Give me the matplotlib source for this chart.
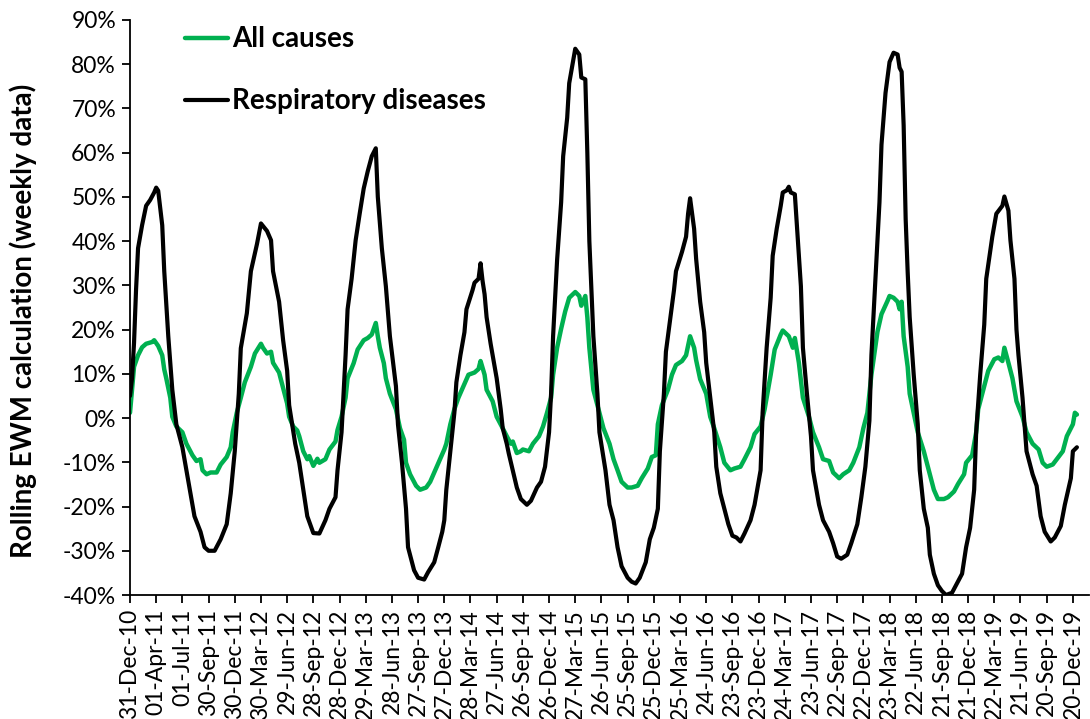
import numpy as np
import pandas as pd
import matplotlib
matplotlib.use("Agg")
import matplotlib.pyplot as plt
from matplotlib.ticker import FuncFormatter, MultipleLocator

plt.rcParams["font.family"] = ["Lato", "DejaVu Sans"]

START = pd.Timestamp("2010-12-31")

# weeks since START, and rolling EWM value in %
all_weeks = [0, 1, 2, 4, 6, 8, 11, 12, 14, 16, 17, 18, 20, 21, 23, 26, 28, 31, 33, 35,
             36, 38, 40, 43, 45, 48, 50, 51, 53, 55, 57, 60, 62, 65, 66, 68, 70, 71, 74, 76,
             78, 79, 81, 83, 84, 86, 88, 89, 91, 93, 94, 97, 99, 102, 103, 105, 107, 108, 111, 113,
             116, 118, 120, 122, 123, 124, 126, 127, 129, 132, 134, 136, 137, 139, 142, 144, 147, 149, 151, 154,
             156, 157, 159, 161, 163, 166, 168, 171, 173, 174, 176, 177, 180, 182, 185, 187, 189, 190, 192, 194,
             195, 198, 200, 203, 205, 207, 209, 210, 212, 214, 216, 218, 221, 223, 224, 226, 227, 228, 230, 233,
             235, 238, 240, 242, 244, 247, 249, 252, 254, 257, 259, 261, 262, 264, 267, 269, 271, 274, 276, 278,
             280, 281, 283, 286, 288, 290, 293, 295, 298, 300, 303, 305, 308, 310, 313, 315, 318, 320, 323, 324,
             327, 329, 330, 332, 334, 337, 339, 342, 344, 347, 349, 352, 354, 357, 359, 362, 364, 366, 368, 371,
             373, 376, 377, 379, 381, 382, 383, 384, 386, 387, 389, 391, 394, 396, 399, 401, 404, 406, 409, 411,
             414, 415, 418, 420, 421, 424, 426, 429, 431, 433, 434, 436, 438, 440, 443, 445, 448, 451, 453, 455,
             458, 460, 463, 465, 468, 469, 470]
all_vals = [1.2, 6.4, 11.6, 14.2, 16.0, 16.8, 17.2, 17.6, 16.3, 14.2, 11.0, 9.0, 4.6, 0.3, -1.9, -3.2, -5.8, -8.4, -9.7, -9.3,
            -11.8, -12.7, -12.3, -12.3, -10.5, -8.8, -6.6, -3.2, 1.2, 4.6, 8.1, 11.6, 14.6, 16.8, 15.9, 14.6, 15.0, 12.5, 10.3, 6.8,
            3.3, 0.3, -1.9, -2.8, -4.1, -7.5, -9.3, -8.6, -10.8, -9.2, -10.1, -9.3, -7.1, -5.3, -2.7, 0.3, 4.6, 9.0, 12.4, 15.5,
            17.6, 18.1, 18.9, 21.5, 18.5, 15.9, 12.4, 9.0, 5.5, 2.0, -2.3, -4.9, -10.1, -12.7, -15.3, -16.2, -15.7, -14.4, -12.3, -9.2,
            -7.1, -5.8, -1.4, 2.0, 4.6, 7.7, 9.8, 10.3, 11.1, 12.9, 9.8, 6.4, 3.8, 0.3, -2.3, -4.1, -5.8, -5.3, -7.9, -7.5,
            -7.1, -7.5, -5.8, -4.1, -1.9, 1.2, 4.6, 9.8, 15.9, 20.2, 24.1, 27.2, 28.5, 27.6, 25.4, 27.6, 22.8, 15.9, 6.4, 1.2,
            -2.3, -5.8, -9.3, -11.8, -14.4, -15.7, -15.7, -15.3, -13.6, -11.4, -8.8, -8.4, -1.4, 2.9, 6.4, 9.8, 12.0, 12.9, 14.2, 18.5,
            15.9, 13.1, 8.8, 5.5, 0.3, -2.3, -6.6, -10.1, -11.8, -11.4, -11.0, -9.3, -6.6, -3.6, -1.9, 2.0, 9.8, 15.5, 18.9, 19.8,
            18.5, 15.9, 18.1, 12.5, 4.6, 0.3, -3.2, -6.6, -9.3, -9.7, -12.3, -13.6, -12.7, -11.8, -10.1, -6.6, -2.3, 1.2, 9.8, 19.5,
            23.5, 26.5, 27.6, 27.2, 26.3, 24.6, 26.3, 18.5, 11.6, 5.5, 1.2, -3.2, -7.5, -11.0, -16.2, -18.3, -18.3, -17.9, -16.6, -14.9,
            -12.7, -10.1, -8.4, -3.2, 2.0, 7.2, 10.7, 13.3, 13.7, 12.9, 15.9, 12.5, 9.0, 3.8, 0.3, -3.2, -5.8, -7.1, -10.1, -11.0,
            -10.5, -9.3, -7.5, -4.1, -1.4, 1.2, 0.8]

resp_weeks = [0, 1, 2, 3, 4, 6, 8, 10, 12, 13, 14, 16, 17, 19, 21, 23, 26, 28, 30, 32,
              35, 37, 39, 42, 45, 48, 50, 52, 54, 55, 58, 60, 63, 65, 68, 70, 71, 74, 76, 78,
              79, 82, 84, 86, 88, 91, 94, 97, 99, 102, 103, 105, 106, 107, 108, 110, 112, 114, 116, 118,
              120, 122, 123, 125, 127, 129, 132, 133, 135, 137, 138, 141, 143, 146, 148, 151, 153, 155, 156, 157,
              159, 161, 162, 164, 166, 167, 170, 171, 173, 174, 175, 176, 177, 179, 180, 182, 184, 185, 187, 188,
              190, 192, 194, 197, 199, 202, 204, 206, 208, 209, 210, 212, 214, 215, 217, 218, 220, 221, 223, 224,
              226, 227, 228, 230, 232, 233, 236, 238, 240, 242, 244, 247, 249, 251, 253, 256, 258, 260, 262, 263,
              265, 266, 268, 270, 271, 274, 276, 277, 278, 280, 281, 283, 285, 286, 288, 290, 291, 293, 295, 297,
              299, 301, 303, 305, 308, 310, 313, 314, 316, 318, 319, 321, 323, 324, 326, 327, 328, 330, 331, 333,
              334, 336, 338, 339, 342, 344, 347, 349, 351, 353, 356, 358, 361, 363, 365, 367, 368, 370, 372, 373,
              375, 377, 379, 381, 382, 383, 384, 385, 386, 387, 389, 391, 392, 394, 396, 397, 399, 401, 403, 405,
              408, 410, 413, 415, 417, 419, 420, 422, 424, 425, 428, 430, 433, 434, 436, 437, 439, 440, 441, 443,
              445, 448, 450, 452, 454, 457, 459, 462, 464, 467, 468, 470]
resp_vals = [5.0, 9.0, 17.0, 29.0, 38.4, 43.6, 48.0, 49.3, 51.0, 52.1, 51.4, 43.6, 33.2, 18.5, 6.4, -1.4, -6.6, -11.8, -17.0, -22.2,
             -25.7, -29.2, -30.0, -30.0, -27.4, -24.0, -17.0, -7.5, 5.5, 15.8, 23.7, 33.2, 39.3, 44.0, 42.3, 40.2, 33.2, 26.3, 17.6, 10.7,
             2.9, -5.8, -10.1, -16.2, -22.2, -26.0, -26.1, -23.1, -20.5, -17.9, -11.8, -3.2, 5.5, 14.2, 24.6, 31.5, 40.2, 46.2, 51.9, 55.8,
             59.2, 61.0, 50.0, 38.4, 29.8, 18.5, 7.2, -1.4, -10.1, -20.5, -29.2, -34.4, -36.1, -36.5, -34.8, -32.6, -29.2, -25.7, -23.1, -16.2,
             -7.5, 1.2, 8.1, 14.2, 19.4, 24.6, 28.9, 30.6, 31.5, 35.0, 31.0, 28.0, 22.8, 16.8, 14.2, 9.0, 2.0, -2.3, -5.8, -8.0,
             -11.8, -15.7, -18.3, -19.6, -18.7, -15.7, -14.4, -11.0, -3.2, 5.5, 18.5, 35.8, 48.8, 59.2, 67.9, 75.7, 80.9, 83.5, 82.2, 77.0,
             76.6, 60.0, 40.0, 18.5, 5.5, -3.2, -11.8, -19.6, -23.1, -29.2, -33.5, -36.1, -37.0, -37.4, -36.1, -32.6, -27.4, -24.8, -20.5, -7.5,
             5.5, 15.0, 22.0, 28.9, 33.2, 37.6, 41.0, 46.2, 49.7, 42.8, 36.0, 26.3, 19.4, 12.5, 4.6, -3.2, -11.0, -17.0, -20.5, -24.0,
             -26.6, -27.0, -27.9, -26.1, -23.1, -19.6, -11.8, 1.2, 15.9, 27.2, 36.7, 42.8, 48.0, 51.0, 51.5, 52.3, 51.0, 50.6, 43.6, 29.8,
             15.9, 5.5, -4.1, -11.8, -19.6, -23.1, -25.7, -28.3, -31.3, -31.8, -30.9, -28.3, -24.0, -17.9, -11.0, -0.6, 14.2, 31.5, 48.8, 61.8,
             73.5, 80.5, 82.6, 82.2, 79.2, 78.3, 66.2, 45.0, 33.0, 22.8, 9.8, -1.4, -11.8, -20.5, -24.8, -30.9, -35.2, -37.8, -39.1, -40.0,
             -39.5, -37.8, -35.2, -29.2, -24.8, -16.2, -3.2, 9.8, 21.1, 31.5, 41.0, 46.2, 48.0, 50.1, 46.9, 40.2, 31.5, 20.0, 14.2, 4.6,
             -7.5, -12.7, -15.3, -22.2, -25.7, -27.9, -27.0, -24.4, -19.6, -13.6, -7.5, -6.6]

tick_weeks = np.arange(0, 469, 13)


def to_dates(weeks):
    return START + pd.to_timedelta(np.asarray(weeks) * 7, unit="D")


fig = plt.figure(figsize=(10.9, 7.19), dpi=100)
ax = fig.add_axes([130 / 1090, 1 - 595 / 719, 959 / 1090, 575 / 719])

ax.plot(to_dates(all_weeks), all_vals, color="#00B050", lw=3.2, label="All causes",
        solid_joinstyle="round", solid_capstyle="round")
ax.plot(to_dates(resp_weeks), resp_vals, color="black", lw=3.0, label="Respiratory diseases",
        solid_joinstyle="round", solid_capstyle="round")

ax.set_ylim(-40, 90)
ax.yaxis.set_major_locator(MultipleLocator(10))
ax.yaxis.set_major_formatter(FuncFormatter(lambda v, _: f"{v:.0f}%"))

tick_dates = to_dates(tick_weeks)
ax.set_xlim(START, START + pd.Timedelta(weeks=476))
ax.set_xticks(tick_dates)
ax.set_xticklabels([d.strftime("%d-%b-%y") for d in tick_dates], rotation=90)

for side in ("top", "right"):
    ax.spines[side].set_visible(False)
for side in ("left", "bottom"):
    ax.spines[side].set_linewidth(1.3)
ax.tick_params(axis="both", direction="out", length=6, width=1.3, labelsize=16.5, pad=4)

ax.set_ylabel("Rolling EWM calculation (weekly data)", fontsize=20, fontweight="bold")
ax.yaxis.set_label_coords(-0.097, 0.477)

ax.legend(loc="upper left", bbox_to_anchor=(0.057, 0.989), frameon=False,
          prop={"weight": "bold", "size": 20}, handlelength=1.55, handletextpad=0.15,
          labelspacing=1.3, borderpad=0, borderaxespad=0)

fig.savefig("out.png", dpi=100)
